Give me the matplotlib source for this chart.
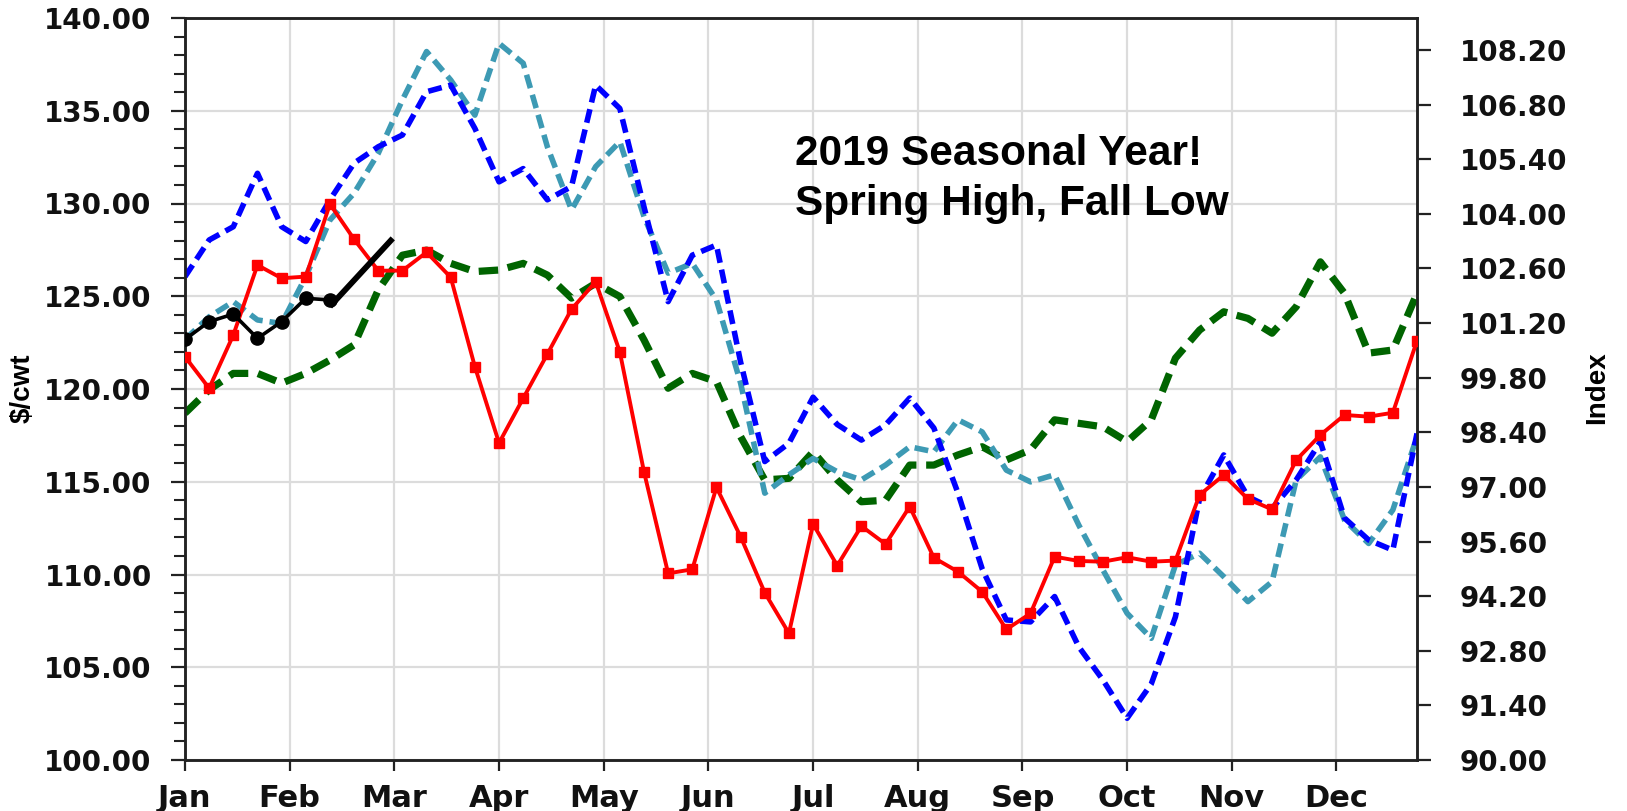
import matplotlib
matplotlib.use('Agg')
import matplotlib.pyplot as plt
from matplotlib.ticker import MultipleLocator, FixedLocator, FormatStrFormatter

# ---------------- data ----------------
months = ['Jan', 'Feb', 'Mar', 'Apr', 'May', 'Jun', 'Jul', 'Aug', 'Sep', 'Oct', 'Nov', 'Dec']
weeks = list(range(52))

price_2019 = [121.74, 120.04, 122.91, 126.68, 125.97, 126.06, 129.97, 128.07, 126.38, 126.38,
              127.37, 126.02, 121.20, 117.09, 119.50, 121.88, 124.30, 125.78, 122.00, 115.54,
              110.06, 110.28, 114.70, 112.04, 109.02, 106.83, 112.72, 110.48, 112.61, 111.64,
              113.66, 110.90, 110.15, 109.07, 107.04, 107.90, 110.96, 110.73, 110.69, 110.93,
              110.69, 110.75, 114.29, 115.36, 114.07, 113.51, 116.17, 117.52, 118.60, 118.51,
              118.72, 122.60]

price_2020 = [122.68, 123.63, 124.04, 122.73, 123.63, 124.89, 124.80]
weeks_2020 = list(range(len(price_2020)))

trend_x = [6.0, 8.6]
trend_y = [124.45, 128.12]

index_blue = [102.39, 103.33, 103.67, 105.04, 103.67, 103.29, 104.36, 105.30, 105.72, 106.02,
              107.13, 107.30, 106.19, 104.82, 105.16, 104.36, 104.70, 107.30, 106.70, 104.18,
              101.75, 102.94, 103.20, 100.20, 97.65, 98.12, 99.30, 98.60, 98.20, 98.59,
              99.28, 98.51, 96.84, 94.90, 93.59, 93.54, 94.19, 92.90, 92.05, 91.07,
              91.95, 93.67, 96.70, 97.82, 96.75, 96.45, 97.18, 98.16, 96.20, 95.64,
              95.38, 98.37]

index_teal = [100.78, 101.36, 101.75, 101.28, 101.19, 102.39, 103.84, 104.53, 105.55, 106.92,
              108.16, 107.43, 106.53, 108.37, 107.86, 105.72, 104.10, 105.21, 105.85, 103.93,
              102.48, 102.73, 101.79, 99.66, 96.84, 97.31, 97.73, 97.39, 97.18, 97.56,
              98.03, 97.90, 98.72, 98.41, 97.43, 97.13, 97.31, 96.02, 94.87, 93.76,
              93.12, 95.00, 95.30, 94.70, 94.06, 94.57, 97.18, 97.77, 96.15, 95.55,
              96.41, 98.29]

index_green = [98.89, 99.49, 99.91, 99.91, 99.66, 99.91, 100.25, 100.64, 102.05, 102.94,
               103.07, 102.73, 102.52, 102.56, 102.73, 102.43, 101.84, 102.22, 101.88, 100.77,
               99.53, 99.91, 99.70, 98.29, 97.18, 97.22, 97.90, 97.18, 96.62, 96.66,
               97.56, 97.56, 97.82, 98.03, 97.69, 97.95, 98.72, 98.63, 98.54, 98.16,
               98.72, 100.30, 101.02, 101.49, 101.32, 100.94, 101.62, 102.77, 101.96, 100.43,
               100.51, 101.96]

left_ticks = [100, 105, 110, 115, 120, 125, 130, 135, 140]
right_ticks = [90.0, 91.4, 92.8, 94.2, 95.6, 97.0, 98.4, 99.8, 101.2, 102.6, 104.0, 105.4, 106.8, 108.2]
month_pos = [i * 52 / 12 for i in range(12)]

# ---------------- figure ----------------
plt.rcParams['lines.scale_dashes'] = False
W, H = 1627, 811
fig = plt.figure(figsize=(W / 100, H / 100), dpi=100)
rect = [185 / W, 51 / H, 1232 / W, 742 / H]
ax = fig.add_axes(rect)
ax2 = ax.twinx()
ax3 = fig.add_axes(rect, sharex=ax, sharey=ax, frameon=False)
ax3.set_axis_off()

spine_c = '#222222'
for a in (ax, ax2):
    for s in a.spines.values():
        s.set_linewidth(1.8)
        s.set_color(spine_c)

ax.set_xlim(0, 51)
ax.set_ylim(100, 140)
ax2.set_ylim(90, 109.02)

ax.yaxis.set_major_locator(FixedLocator(left_ticks))
ax.yaxis.set_minor_locator(MultipleLocator(1))
ax.yaxis.set_major_formatter(FormatStrFormatter('%.2f'))
ax.xaxis.set_major_locator(FixedLocator(month_pos))
ax.set_xticklabels(months)
ax2.yaxis.set_major_locator(FixedLocator(right_ticks))
ax2.yaxis.set_major_formatter(FormatStrFormatter('%.2f'))

ax.grid(True, which='major', color='#dcdcdc', linewidth=1.6)
ax.set_axisbelow(True)

ax.tick_params(axis='y', which='major', direction='out', length=10, width=1.6,
               color=spine_c, pad=14, labelsize=20)
ax.tick_params(axis='y', which='minor', direction='out', length=8, width=1.5, color=spine_c)
ax.tick_params(axis='x', which='major', direction='out', length=8, width=1.6,
               color=spine_c, pad=9, labelsize=22)
ax2.tick_params(axis='y', which='major', direction='out', length=10, width=1.6,
                color=spine_c, pad=21, labelsize=20)
for lab in ax.get_xticklabels() + ax.get_yticklabels() + ax2.get_yticklabels():
    lab.set_fontweight('bold')
    lab.set_family('DejaVu Sans')
    lab.set_color('#111111')

# dashed index series (right axis)
ax2.plot(weeks, index_green, color='#006400', linewidth=5.2, dashes=(14, 7))
ax2.plot(weeks, index_teal, color='#3d9ab4', linewidth=4.0, dashes=(10, 5))
ax2.plot(weeks, index_blue, color='#0000ff', linewidth=4.0, dashes=(10, 5))

# price series (left axis), drawn on top
ax3.plot(weeks, price_2019, color='#ff0000', linewidth=2.8, marker='s', markersize=7.5,
         markeredgecolor='#ff0000')
ax3.plot(weeks_2020, price_2020, color='black', linewidth=2.6, marker='o', markersize=9.5)
ax3.plot(trend_x, trend_y, color='black', linewidth=4.2, solid_capstyle='butt')
ax3.set_xlim(0, 51)
ax3.set_ylim(100, 140)

# labels
fig.text(23 / W, 1 - 388 / H, '$/cwt', rotation=90, ha='center', va='center',
         fontsize=20, fontweight='bold', family='Liberation Sans')
fig.text(1597 / W, 1 - 388 / H, 'Index', rotation=90, ha='center', va='center',
         fontsize=20, fontweight='bold', family='Liberation Sans')

ax.text(0.4951, 0.8019, '2019 Seasonal Year!', transform=ax.transAxes, ha='left',
        va='baseline', fontsize=30.5, fontweight='bold', family='Liberation Sans', zorder=10)
ax.text(0.4951, 0.7345, 'Spring High, Fall Low', transform=ax.transAxes, ha='left',
        va='baseline', fontsize=30.5, fontweight='bold', family='Liberation Sans', zorder=10)

fig.savefig('out.png', dpi=100)
